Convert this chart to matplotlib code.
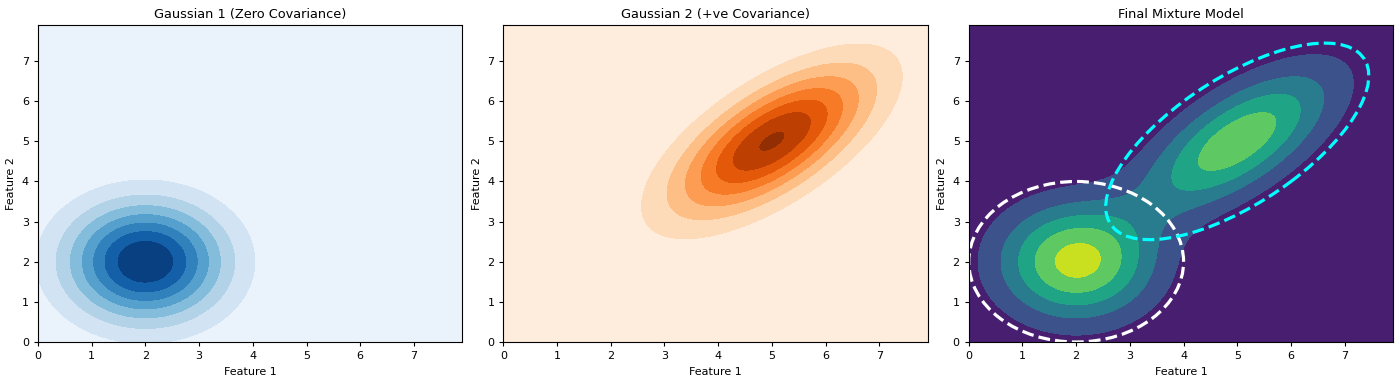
import numpy as np
import matplotlib
matplotlib.use("Agg")
import matplotlib.pyplot as plt
from matplotlib.patches import Ellipse

# mixture parameters
means = [[2.0, 2.0], [5.0, 5.0]]
covs = [[[1.0, 0.0], [0.0, 1.0]],
        [[1.5, 1.0], [1.0, 1.5]]]
weights = [0.5, 0.5]
titles = ["Gaussian 1 (Zero Covariance)", "Gaussian 2 (+ve Covariance)", "Final Mixture Model"]
cmaps = ["Blues", "Oranges", "viridis"]
ring_colors = ["white", "cyan"]


def gauss_pdf(X, Y, mu, cov):
    mu = np.asarray(mu)
    cov = np.asarray(cov)
    inv = np.linalg.inv(cov)
    dx = X - mu[0]
    dy = Y - mu[1]
    q = inv[0, 0] * dx**2 + 2 * inv[0, 1] * dx * dy + inv[1, 1] * dy**2
    return np.exp(-0.5 * q) / (2 * np.pi * np.sqrt(np.linalg.det(cov)))


def ring(ax, mu, cov, color, nstd=2):
    vals, vecs = np.linalg.eigh(np.asarray(cov))
    order = vals.argsort()[::-1]
    vals, vecs = vals[order], vecs[:, order]
    angle = np.degrees(np.arctan2(vecs[1, 0], vecs[0, 0]))
    w, h = 2 * nstd * np.sqrt(vals)
    ax.add_patch(Ellipse(mu, w, h, angle=angle, fill=False, edgecolor=color,
                         linestyle="--", linewidth=2.3))


x = np.linspace(0, 7.9, 240)
y = np.linspace(0, 7.9, 240)
X, Y = np.meshgrid(x, y)
Z1 = gauss_pdf(X, Y, means[0], covs[0])
Z2 = gauss_pdf(X, Y, means[1], covs[1])
Zmix = weights[0] * Z1 + weights[1] * Z2

fig, axes = plt.subplots(1, 3, figsize=(14, 3.84), dpi=100)
fig.subplots_adjust(left=38/1400, right=1393/1400, bottom=1-342/384, top=1-25/384, wspace=0.097)

axes[0].contourf(X, Y, Z1, cmap=cmaps[0])
axes[1].contourf(X, Y, Z2, cmap=cmaps[1])
axes[2].contourf(X, Y, Zmix, levels=np.arange(0, 0.0901, 0.015), cmap=cmaps[2])
for mu, cov, c in zip(means, covs, ring_colors):
    ring(axes[2], mu, cov, c)

for ax, t in zip(axes, titles):
    ax.set_title(t, fontsize=9.3, pad=5)
    ax.set_xlabel("Feature 1", fontsize=8)
    ax.set_ylabel("Feature 2", fontsize=8)
    ax.tick_params(labelsize=8, length=3)
    ax.set_xlim(0, 7.9)
    ax.set_ylim(0, 7.9)

fig.savefig("out.png", dpi=100)
